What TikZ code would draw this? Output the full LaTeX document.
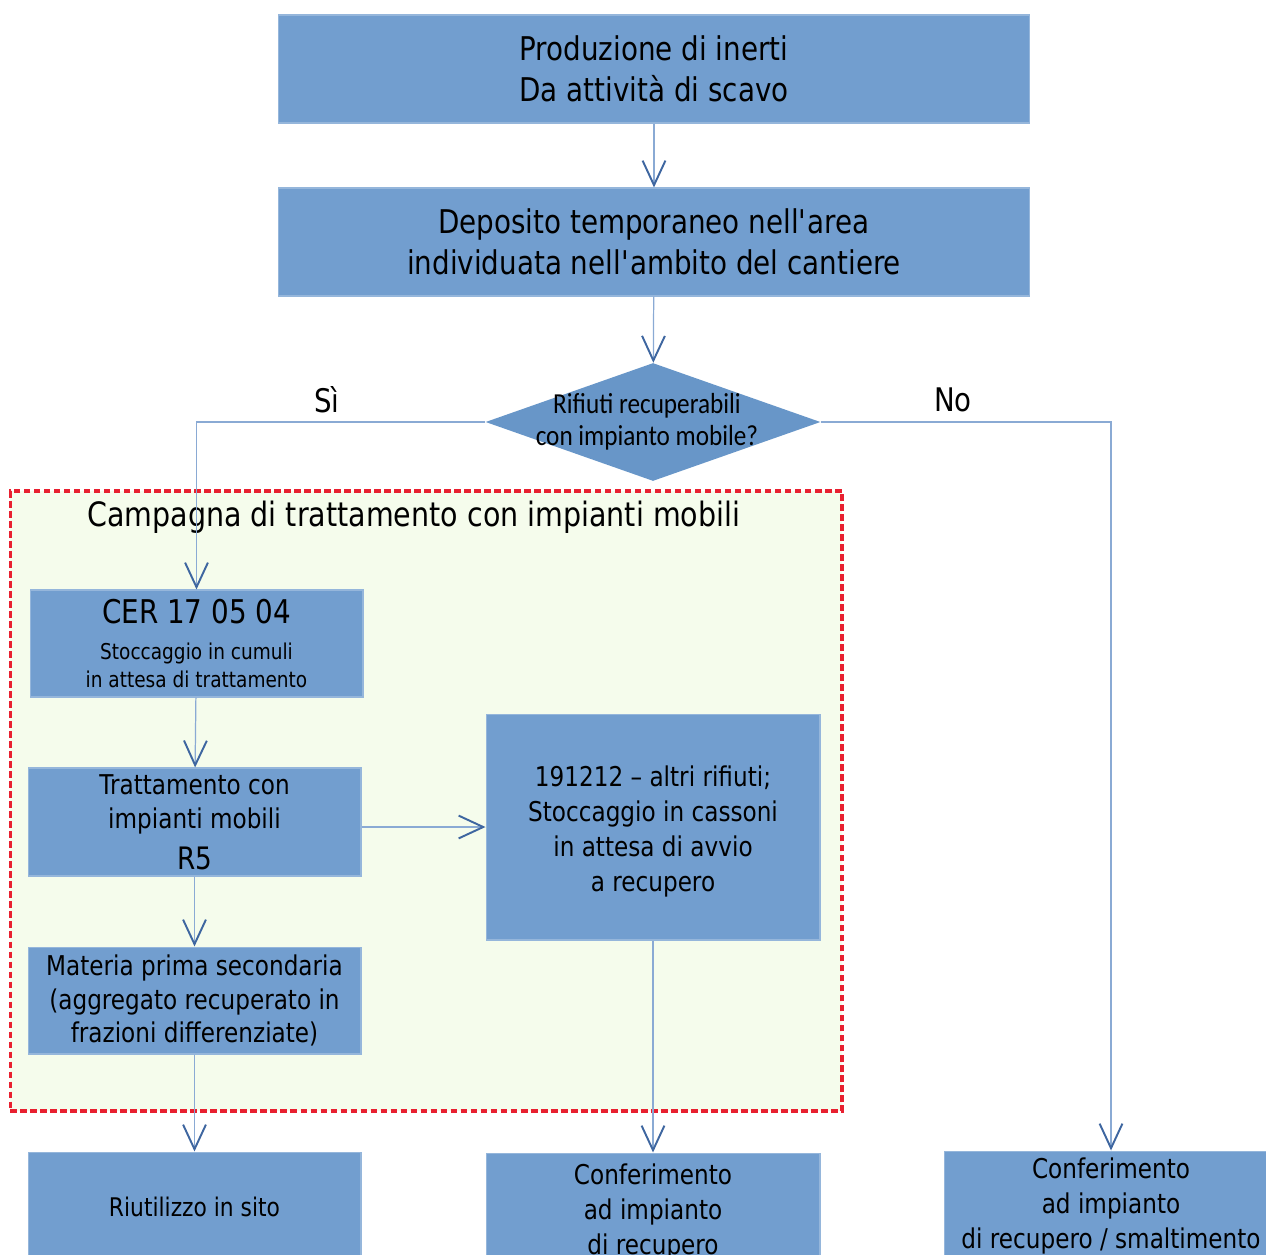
\documentclass[tikz,border=0pt]{standalone}
\usepackage{fontspec}
\setmainfont{DejaVu Sans}[FakeStretch=0.85]
\newfontfamily\diafont{Carlito}[FakeStretch=0.87]
\usetikzlibrary{arrows.meta}
\usetikzlibrary{shapes.geometric}
\usetikzlibrary{positioning}
\definecolor{boxblue}{RGB}{114,158,207}
\definecolor{diablue}{RGB}{104,150,200}
\definecolor{lineblue}{RGB}{138,170,212}
\definecolor{tipblue}{RGB}{62,102,160}
\definecolor{campgreen}{RGB}{245,252,236}
\definecolor{campred}{RGB}{232,32,48}
\tikzset{block/.style={rectangle,fill=boxblue,draw=boxblue!75!white,line width=0.6pt,inner sep=0pt,align=center}}
\tikzset{wide/.style={block,minimum width=15.04cm,minimum height=2.16cm,font=\fontsize{18.6}{23.2}\selectfont}}
\tikzset{small/.style={block,minimum width=6.66cm,minimum height=2.14cm,font=\fontsize{15.5}{19.3}\selectfont}}
\tikzset{flow/.style={draw=lineblue,line width=0.7pt,-{Straight Barb[length=14pt,width=13pt,line width=1.1pt,color=tipblue]}}}
\tikzset{answer/.style={font=\fontsize{18.5}{22}\selectfont}}

\begin{document}
\begin{tikzpicture}[x=0.02cm,y=-0.02cm]
\useasboundingbox (0,0) rectangle (1266,1254);
% campagna area
\node[rectangle,fill=campgreen,draw=campred,line width=1.8pt,dash pattern=on 3.8pt off 1.9pt,
  minimum width=16.64cm,minimum height=12.4cm,inner sep=0pt] (camp) at (426,801) {};
\node[anchor=west,inner sep=0pt,font=\fontsize{19.1}{22}\selectfont] (camptitle) at (87,517)
  {Campagna di trattamento con impianti mobili};

\node[wide] (prod) at (654,69) {Produzione di inerti\\Da attività di scavo};
\node[wide] (dep) at (654,242) {Deposito temporaneo nell\textquotesingle area\\individuata nell\textquotesingle ambito del cantiere};

\node[diamond,fill=diablue,minimum width=6.7cm,minimum height=2.36cm,inner sep=0pt] (dia) at (653,422) {};
\node[align=center,inner sep=0pt,font=\diafont\fontsize{16.5}{18.2}\selectfont] (diatext) at (647,422)
  {Rifiuti recuperabili\\con impianto mobile?};
\node[answer] (si) at (327,400) {Sì};
\node[answer] (no) at (953,400) {No};

\node[small,font=\fontsize{12.4}{15.9}\selectfont] (cer) at (196.5,643.5) {{\fontsize{18.6}{22}\selectfont CER 17 05 04}\\[5pt]
  Stoccaggio in cumuli\\in attesa di trattamento};
\node[small,minimum height=2.16cm] (tratt) at (194.5,822) {Trattamento con\\impianti mobili\\[4pt]
  {\fontsize{17.6}{20}\selectfont R5}};
\node[small] (mat) at (194.5,1000.5) {Materia prima secondaria\\(aggregato recuperato in\\frazioni differenziate)};
\node[small,minimum width=6.68cm,minimum height=4.52cm,font=\fontsize{15.5}{20}\selectfont] (rec) at (653,827)
  {\rule{0pt}{17pt}191212 – altri rifiuti;\\Stoccaggio in cassoni\\in attesa di avvio\\a recupero};

\node[small,minimum height=2.2cm,font=\fontsize{14.6}{19.8}\selectfont] (riut) at (194.5,1207) {Riutilizzo in sito};
\node[small,minimum width=6.68cm,minimum height=2.2cm,font=\fontsize{15.5}{19.8}\selectfont] (conf) at (653,1208)
  {\rule{0pt}{16pt}Conferimento\\ad impianto\\di recupero};
\node[small,minimum width=6.68cm,minimum height=2.2cm,font=\fontsize{15.5}{19.8}\selectfont] (smalt) at (1111,1206)
  {Conferimento\\ad impianto\\di recupero / smaltimento};

% connettori
\draw[flow] (prod) -- (dep);
\draw[flow] (dep) -- (dia);
\draw[flow] (dia.west) -| (cer.north);
\draw[flow] (dia.east) -| (smalt.north);
\draw[flow] (cer) -- (tratt);
\draw[flow] (tratt.east |- rec.west) -- (rec.west);
\draw[flow] (tratt) -- (mat);
\draw[flow] (mat) -- (riut);
\draw[flow] (rec) -- (conf);
\end{tikzpicture}
\end{document}
